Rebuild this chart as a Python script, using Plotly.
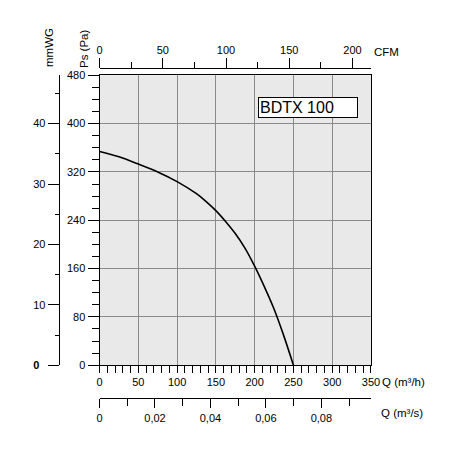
import plotly.graph_objects as go

# curva BDTX 100 - pressão estática x vazão
q_m3h = [0, 25, 50, 75, 100, 125, 137.5, 150, 162.5, 175, 187.5, 200, 212.5, 225, 237.5, 250]
ps_pa = [354, 345, 333, 320, 304, 284, 271, 256, 238, 218, 194, 164, 130, 93, 49, 0]

q_ticks = [0, 50, 100, 150, 200, 250, 300, 350]
ps_ticks = [0, 80, 160, 240, 320, 400, 480]
cfm_ticks = [0, 50, 100, 150, 200]
mmwg_ticks = [0, 10, 20, 30, 40]
mmwg_labels = ['<b>0</b>  ', '10', '20', '30', '40']
m3s_ticks = [0, 0.02, 0.04, 0.06, 0.08]

# a página tem margem de 8 px no body
OFF = 8
W = H = 459 - 2 * OFF


def px(x):
    return (x - OFF) / W


def py(y):
    return 1 - (y - OFF) / H


font = dict(family='Arial, Liberation Sans, sans-serif', size=11, color='black')
eixo = dict(showline=True, linecolor='black', linewidth=1, ticks='outside',
            tickcolor='black', tickfont=font, zeroline=False, fixedrange=True)

fig = go.Figure()
fig.add_trace(go.Scatter(x=q_m3h, y=ps_pa, mode='lines', line_shape='spline',
                         line=dict(color='black', width=1.6),
                         showlegend=False, hoverinfo='skip'))
# traços vazios só para ativar os eixos auxiliares
fig.add_trace(go.Scatter(x=[], y=[], xaxis='x2', yaxis='y', showlegend=False))
fig.add_trace(go.Scatter(x=[], y=[], xaxis='x3', yaxis='y', showlegend=False))
fig.add_trace(go.Scatter(x=[], y=[], xaxis='x', yaxis='y2', showlegend=False))

fig.update_layout(
    width=W, height=H,
    margin=dict(l=0, r=0, t=0, b=0),
    paper_bgcolor='white', plot_bgcolor='#e9e9e9',
    separators=', ',
    showlegend=False,
    xaxis=dict(eixo, domain=[px(99), px(378)], range=[0, 350], tickvals=q_ticks,
               ticklen=7, mirror=True, showgrid=True, gridcolor='#8a8a8a', gridwidth=1,
               minor=dict(dtick=10, ticks='outside', ticklen=7, tickcolor='black', showgrid=False)),
    yaxis=dict(eixo, domain=[py(369), py(71)], range=[0, 480], tickvals=ps_ticks,
               ticklen=11, mirror=True, showgrid=True, gridcolor='#8a8a8a', gridwidth=1,
               minor=dict(dtick=20, ticks='outside', ticklen=7, tickcolor='black', showgrid=False)),
    xaxis2=dict(eixo, overlaying='x', side='top', anchor='free', position=py(64),
                domain=[px(99), px(378)], range=[0, 214.6], tickvals=cfm_ticks,
                ticklen=10, showgrid=False,
                minor=dict(dtick=25, ticks='outside', ticklen=6, tickcolor='black', showgrid=False)),
    xaxis3=dict(eixo, overlaying='x', side='bottom', anchor='free', position=py(403),
                domain=[px(99), px(380)], range=[0, 350 / 3600 * 1.007], tickvals=m3s_ticks,
                ticklen=9, showgrid=False,
                minor=dict(dtick=0.01, ticks='outside', ticklen=7, tickcolor='black', showgrid=False)),
    yaxis2=dict(eixo, overlaying='y', side='left', anchor='free', position=px(57),
                range=[0, 48], tickvals=mmwg_ticks, ticktext=mmwg_labels,
                ticklen=11, showgrid=False,
                minor=dict(dtick=5, ticks='outside', ticklen=4, tickcolor='black', showgrid=False)),
)

tfont = dict(family='Arial, Liberation Sans, sans-serif', size=11.5, color='black')
titulos = [
    ('Ps (Pa)', 83, 43, -90),
    ('mmWG', 47, 42, -90),
    ('CFM', 394, 47, 0),
    ('Q (m³/h)', 411, 386, 0),
    ('Q (m³/s)', 410, 418, 0),
]
for txt, x, y, ang in titulos:
    fig.add_annotation(text=txt, x=px(x), y=py(y), xref='paper', yref='paper',
                       showarrow=False, textangle=ang, font=tfont,
                       xanchor='center', yanchor='middle')

fig.add_annotation(text='BDTX 100', x=px(262), y=py(93), xref='paper', yref='paper',
                   xanchor='left', yanchor='top', showarrow=False,
                   width=96, height=17, align='left',
                   bgcolor='white', bordercolor='black', borderwidth=1, borderpad=1,
                   font=dict(family='Arial, Liberation Sans, sans-serif', size=16, color='black'))

fig.write_html("out.html")
